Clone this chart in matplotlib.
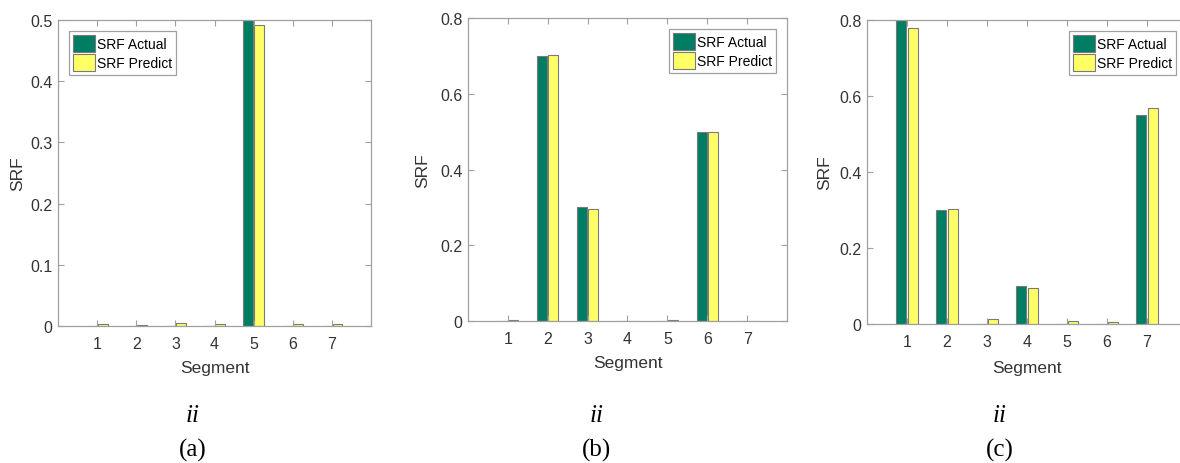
import numpy as np
import matplotlib.pyplot as plt

plt.rcParams['font.family'] = ['Liberation Sans', 'DejaVu Sans']

# data
segments = [1, 2, 3, 4, 5, 6, 7]
actual_a = [0, 0, 0, 0, 0.5, 0, 0]
predict_a = [0.003, 0.002, 0.005, 0.003, 0.492, 0.003, 0.003]
actual_b = [0, 0.70, 0.30, 0, 0, 0.50, 0]
predict_b = [0.002, 0.703, 0.297, 0.001, 0.003, 0.50, 0.001]
actual_c = [0.80, 0.30, 0, 0.10, 0, 0, 0.55]
predict_c = [0.779, 0.303, 0.012, 0.096, 0.009, 0.006, 0.568]
labels = ["SRF Actual", "SRF Predict"]
captions = ["(a)", "(b)", "(c)"]

green = "#007d62"
yellow = "#ffff66"
edge = "#7a7a7a"
spine_col = "#a0a0a0"
text_col = "#333333"

fig = plt.figure(figsize=(11.8, 4.64), dpi=100)

"""panel setup: axes rect, y max, y ticks, legend loc, label coords"""
panels = [
    ([0.0492, 0.2953, 0.2653, 0.6595], 0.5, np.arange(0, 0.51, 0.1), "upper left", -0.105, -0.111, 0.1636,
     actual_a, predict_a),
    ([0.3966, 0.3060, 0.2703, 0.6530], 0.8, np.arange(0, 0.81, 0.2), "upper right", -0.12, -0.112, 0.5059,
     actual_b, predict_b),
    ([0.7347, 0.2996, 0.2712, 0.6552], 0.8, np.arange(0, 0.81, 0.2), "upper right", -0.11, -0.118, 0.8475,
     actual_c, predict_c),
]

x = np.array(segments)
w = 0.25
for i, (rect, ymax, yt, loc, ylx, xly, capx, act, pred) in enumerate(panels):
    ax = fig.add_axes(rect)
    ax.bar(x - 0.14, act, w, color=green, edgecolor=edge, linewidth=0.8, label=labels[0])
    ax.bar(x + 0.14, pred, w, color=yellow, edgecolor=edge, linewidth=0.8, label=labels[1])
    ax.set_xlim(0, 8)
    ax.set_ylim(0, ymax)
    ax.set_xticks(segments)
    ax.set_yticks(yt)
    ax.set_yticklabels(["0"] + ["%.1f" % v for v in yt[1:]])
    ax.tick_params(direction="in", top=True, right=True, length=4, width=0.8,
                   color=spine_col, labelcolor=text_col, labelsize=11.5)
    ax.tick_params(axis="x", pad=7)
    ax.tick_params(axis="y", pad=4)
    for s in ax.spines.values():
        s.set_color(spine_col)
        s.set_linewidth(0.9)
    ax.set_ylabel("SRF", fontsize=12.5, color=text_col)
    ax.set_xlabel("Segment", fontsize=12.5, color=text_col)
    ax.yaxis.set_label_coords(ylx, 0.5)
    ax.xaxis.set_label_coords(0.5, xly)
    leg = ax.legend(loc=loc, fontsize=10, fancybox=False, framealpha=1,
                    edgecolor=spine_col, handlelength=1.6, handleheight=1.5,
                    handletextpad=0.15, borderpad=0.25, labelspacing=0.2,
                    borderaxespad=0.8)
    leg.get_frame().set_linewidth(0.9)

    fig.text(capx, 1 - 416 / 464, "ii", fontsize=18, style="italic",
             family="Liberation Serif", ha="center", va="center")
    fig.text(capx, 1 - 450 / 464, captions[i], fontsize=18,
             family="Liberation Serif", ha="center", va="center")

fig.savefig("out.png", dpi=100)
